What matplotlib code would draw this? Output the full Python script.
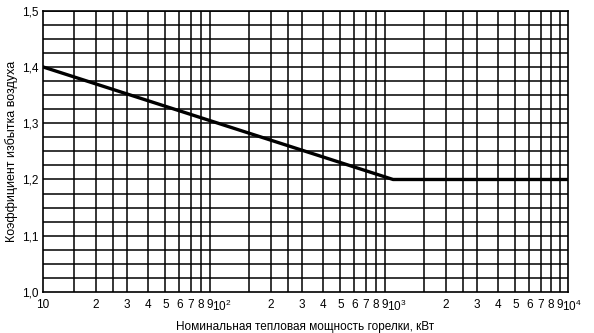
import matplotlib
matplotlib.use("Agg")
import matplotlib.pyplot as plt
import matplotlib.transforms as mtransforms
import numpy as np

plt.rcParams['font.family'] = ['Liberation Sans', 'DejaVu Sans']
plt.rcParams['mathtext.fontset'] = 'custom'
plt.rcParams['mathtext.rm'] = 'Liberation Sans'
plt.rcParams['mathtext.it'] = 'Liberation Sans'

# curve: excess air coefficient vs burner power
power = [10, 1000, 10000]
alpha = [1.40, 1.20, 1.20]

# grid positions inside each decade
grid_mult = [1.5, 2, 2.5, 3, 4, 5, 6, 7, 8, 9]
label_mult = [2, 3, 4, 5, 6, 7, 8, 9]
decades = [10, 100, 1000]
decade_labels = ['10', '$10^2$', '$10^3$', '$10^4$']
y_ticks = [1.0, 1.1, 1.2, 1.3, 1.4, 1.5]
y_labels = ['1,0', '1,1', '1,2', '1,3', '1,4', '1,5']

fig = plt.figure(figsize=(5.94, 3.33), dpi=100)
ax = fig.add_axes([0.0724, 0.123, 0.884, 0.845])

ax.set_xscale('log')
ax.set_xlim(10, 10000)
ax.set_ylim(1.0, 1.5)

# vertical grid
for d in decades:
    for m in grid_mult:
        ax.axvline(d * m, color='black', lw=1.1, zorder=1)
# horizontal grid every 0.025
for y in np.arange(1.025, 1.5, 0.025):
    ax.axhline(y, color='black', lw=1.1, zorder=1)

ax.plot(power, alpha, color='black', lw=2.4, zorder=3)

major = [10, 100, 1000, 10000]
minor = [d * m for d in decades for m in label_mult]
ax.set_xticks(major)
ax.set_xticklabels(decade_labels)
ax.set_xticks(minor, minor=True)
ax.set_xticklabels([str(m) for d in decades for m in label_mult], minor=True)
ax.set_yticks(y_ticks)
ax.set_yticklabels(y_labels)
ax.tick_params(axis='both', which='both', length=0, labelsize=8.5, pad=5)
ax.tick_params(axis='y', pad=3)

# nudge the power-of-ten labels right so the superscript sits after the tick
shift = mtransforms.ScaledTranslation(4 / 100, 0, fig.dpi_scale_trans)
for lbl in ax.get_xticklabels()[1:]:
    lbl.set_transform(lbl.get_transform() + shift)

for s in ax.spines.values():
    s.set_linewidth(1.2)

ax.set_xlabel('Номинальная тепловая мощность горелки, кВт', fontsize=8.5, labelpad=5)
ax.set_ylabel('Коэффициент избытка воздуха', fontsize=9, labelpad=3)

fig.savefig('out.png', dpi=100)
